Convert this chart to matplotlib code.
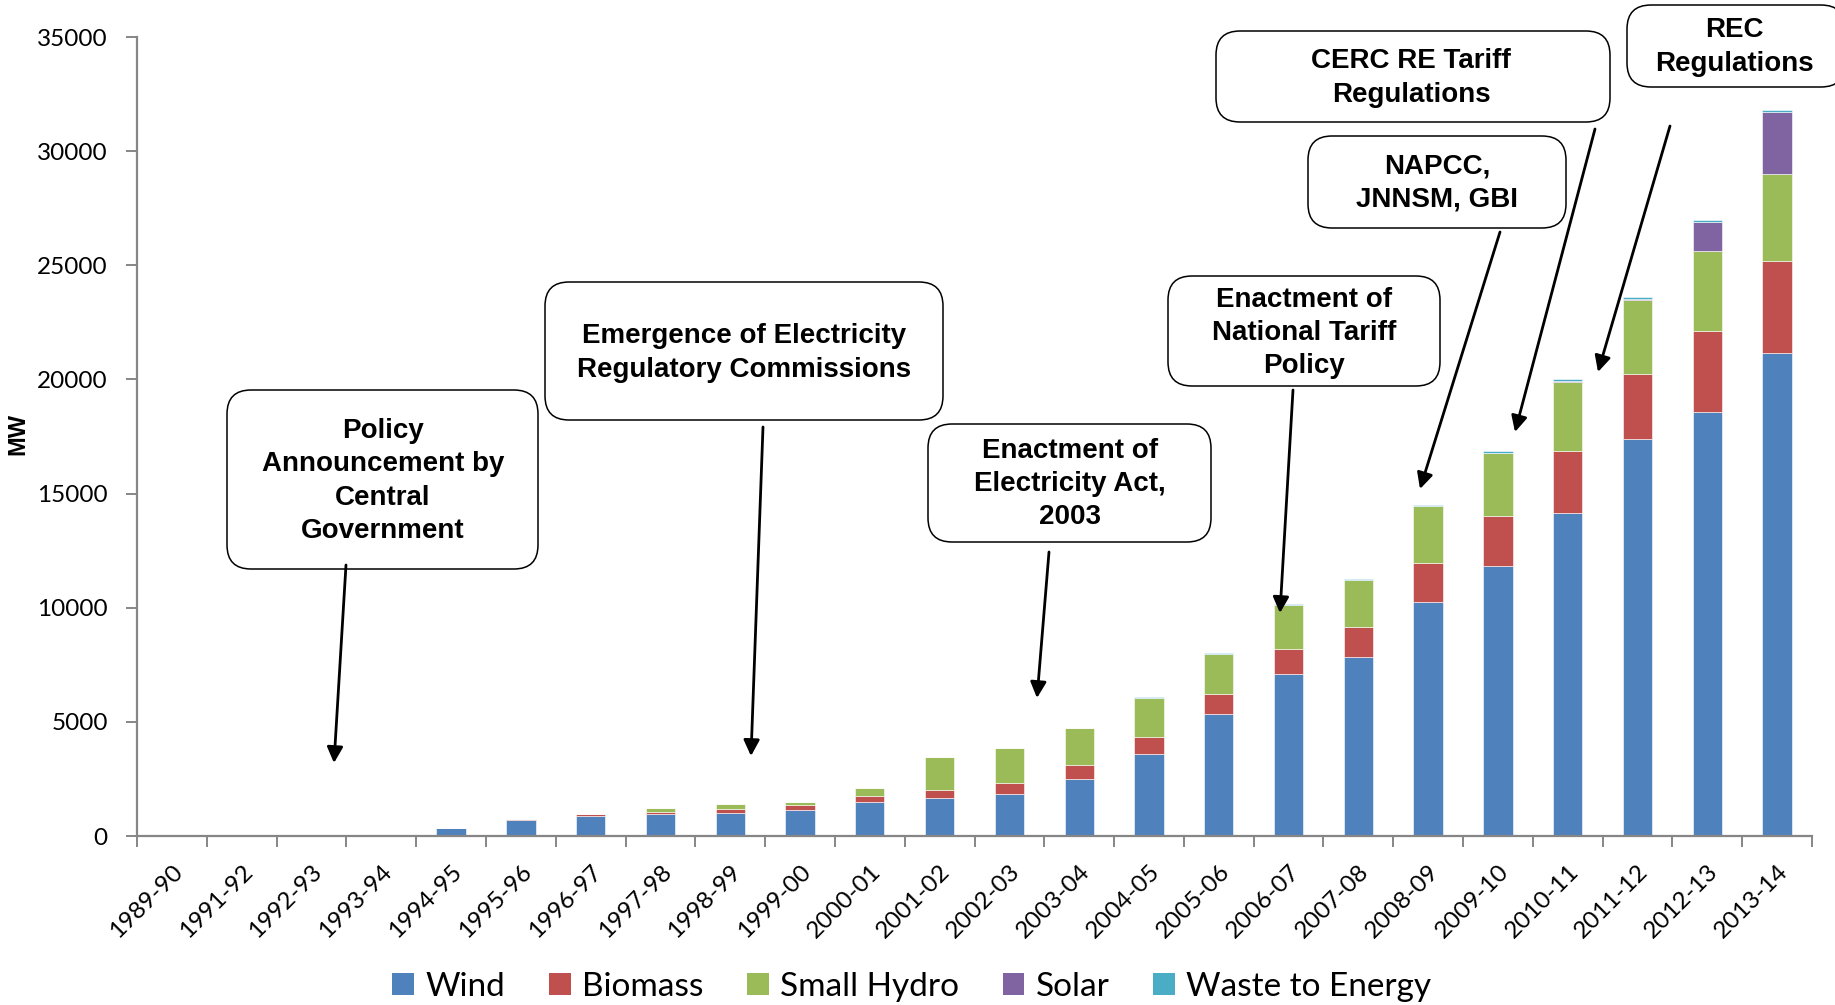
import numpy as np
import matplotlib.pyplot as plt
from matplotlib.patches import FancyBboxPatch, FancyArrowPatch, Patch

# Cumulative installed renewable capacity in India (MW)
years = ['1989-90', '1991-92', '1992-93', '1993-94', '1994-95', '1995-96',
         '1996-97', '1997-98', '1998-99', '1999-00', '2000-01', '2001-02',
         '2002-03', '2003-04', '2004-05', '2005-06', '2006-07', '2007-08',
         '2008-09', '2009-10', '2010-11', '2011-12', '2012-13', '2013-14']
wind = [0, 0, 10, 80, 336, 690, 880, 965, 1010, 1140, 1470, 1650,
        1860, 2490, 3610, 5340, 7090, 7840, 10240, 11820, 14170, 17390, 18580, 21150]
biomass = [0, 0, 30, 20, 30, 70, 75, 100, 160, 205, 295, 350,
           480, 615, 730, 880, 1080, 1300, 1730, 2190, 2680, 2850, 3540, 4030]
small_hydro = [0, 0, 0, 0, 0, 0, 30, 145, 220, 130, 345, 1450,
               1535, 1620, 1725, 1755, 1930, 2075, 2470, 2780, 3050, 3240, 3520, 3840]
solar = [0, 0, 0, 0, 0, 0, 0, 0, 0, 0, 0, 0,
         0, 0, 0, 0, 0, 0, 0, 0, 35, 60, 1240, 2680]
waste = [0, 0, 0, 0, 0, 0, 0, 0, 0, 0, 0, 0,
         0, 0, 40, 45, 55, 60, 70, 75, 75, 90, 95, 100]

series = [('Wind', wind, '#4F81BD'),
          ('Biomass', biomass, '#C0504D'),
          ('Small Hydro', small_hydro, '#9BBB59'),
          ('Solar', solar, '#8064A2'),
          ('Waste to Energy', waste, '#4BACC6')]

# policy milestones: text, box (left, top, right, bottom px), text centre, arrow tail, arrow head
milestones = [
    ('Policy\nAnnouncement by\nCentral\nGovernment', (227, 390, 538, 569), (383, 481), (346, 565), (334, 763)),
    ('Emergence of Electricity\nRegulatory Commissions', (545, 282, 943, 420), (744, 353), (763, 427), (751, 756)),
    ('Enactment of\nElectricity Act,\n2003', (928, 424, 1211, 542), (1070, 484), (1049, 552), (1037, 698)),
    ('Enactment of\nNational Tariff\nPolicy', (1168, 276, 1440, 386), (1304, 333), (1293, 390), (1280, 613)),
    ('NAPCC,\nJNNSM, GBI', (1308, 136, 1566, 228), (1437, 183), (1500, 232), (1420, 489)),
    ('CERC RE Tariff\nRegulations', (1216, 31, 1610, 122), (1411, 78), (1595, 129), (1515, 432)),
    ('REC\nRegulations', (1627, 5, 1845, 87), (1734, 47), (1670, 126), (1598, 372)),
]

W, H = 1835, 1005


def px(x, y):
    # pixel position (origin top-left) to figure inches
    return x / 100, (H - y) / 100


fig = plt.figure(figsize=(W / 100, H / 100), dpi=100)
ax = fig.add_axes([137 / W, 169 / H, (1812 - 137) / W, (836 - 37) / H])

x = np.arange(len(years))
bottom = np.zeros(len(years))
handles = []
for name, vals, color in series:
    vals = np.array(vals, dtype=float)
    ax.bar(x, vals, width=0.42, bottom=bottom, color=color,
           edgecolor='white', linewidth=0.4)
    bottom += vals
    handles.append(Patch(facecolor=color, label=name))

ax.set_xlim(-0.5, len(years) - 0.5)
ax.set_ylim(0, 35000)
ax.set_yticks(range(0, 35001, 5000))
ax.set_xticks(x)
ax.set_xticklabels(years, rotation=45, ha='right', rotation_mode='anchor', family='Lato')
ax.set_xticks(np.arange(-0.5, len(years), 1), minor=True)
for lab in ax.get_yticklabels():
    lab.set_family('Lato')

for s in ['top', 'right']:
    ax.spines[s].set_visible(False)
for s in ['left', 'bottom']:
    ax.spines[s].set_color('#868686')
    ax.spines[s].set_linewidth(1.6)

ax.tick_params(axis='y', direction='out', length=8, width=1.4, color='#868686',
               pad=13, labelsize=17.5)
ax.tick_params(axis='x', which='major', length=0, pad=18, labelsize=17.5)
ax.tick_params(axis='x', which='minor', direction='out', length=8, width=1.4, color='#868686')

ax.set_ylabel('MW', fontsize=17, fontweight='bold', family='Liberation Sans')
ax.yaxis.set_label_coords(-0.0645, 0.503)

tr = fig.dpi_scale_trans
for text, (l, t, r, b), (tx, ty), tail, head in milestones:
    x0, y0 = px(l, b)
    x1, y1 = px(r, t)
    box = FancyBboxPatch((x0, y0), x1 - x0, y1 - y0,
                         boxstyle='round,pad=0,rounding_size=0.24',
                         transform=tr, facecolor='white', edgecolor='black',
                         linewidth=1.1, zorder=5)
    fig.add_artist(box)
    tx_, ty_ = px(tx, ty)
    fig.text(tx_, ty_, text, transform=tr, ha='center', va='center',
             fontsize=20, fontweight='bold', family='Liberation Sans',
             linespacing=1.37, zorder=6)
    arrow = FancyArrowPatch(px(*tail), px(*head), transform=tr,
                            arrowstyle='-|>', mutation_scale=24, linewidth=2,
                            color='black', shrinkA=0, shrinkB=0, zorder=6)
    fig.add_artist(arrow)

fig.legend(handles=handles, loc='center', bbox_to_anchor=(0.497, 0.018),
           ncol=5, frameon=False, prop={'family': 'Lato', 'size': 24},
           handlelength=0.65, handleheight=0.65, handletextpad=0.35,
           columnspacing=1.3)

fig.savefig('out.png', dpi=100)
